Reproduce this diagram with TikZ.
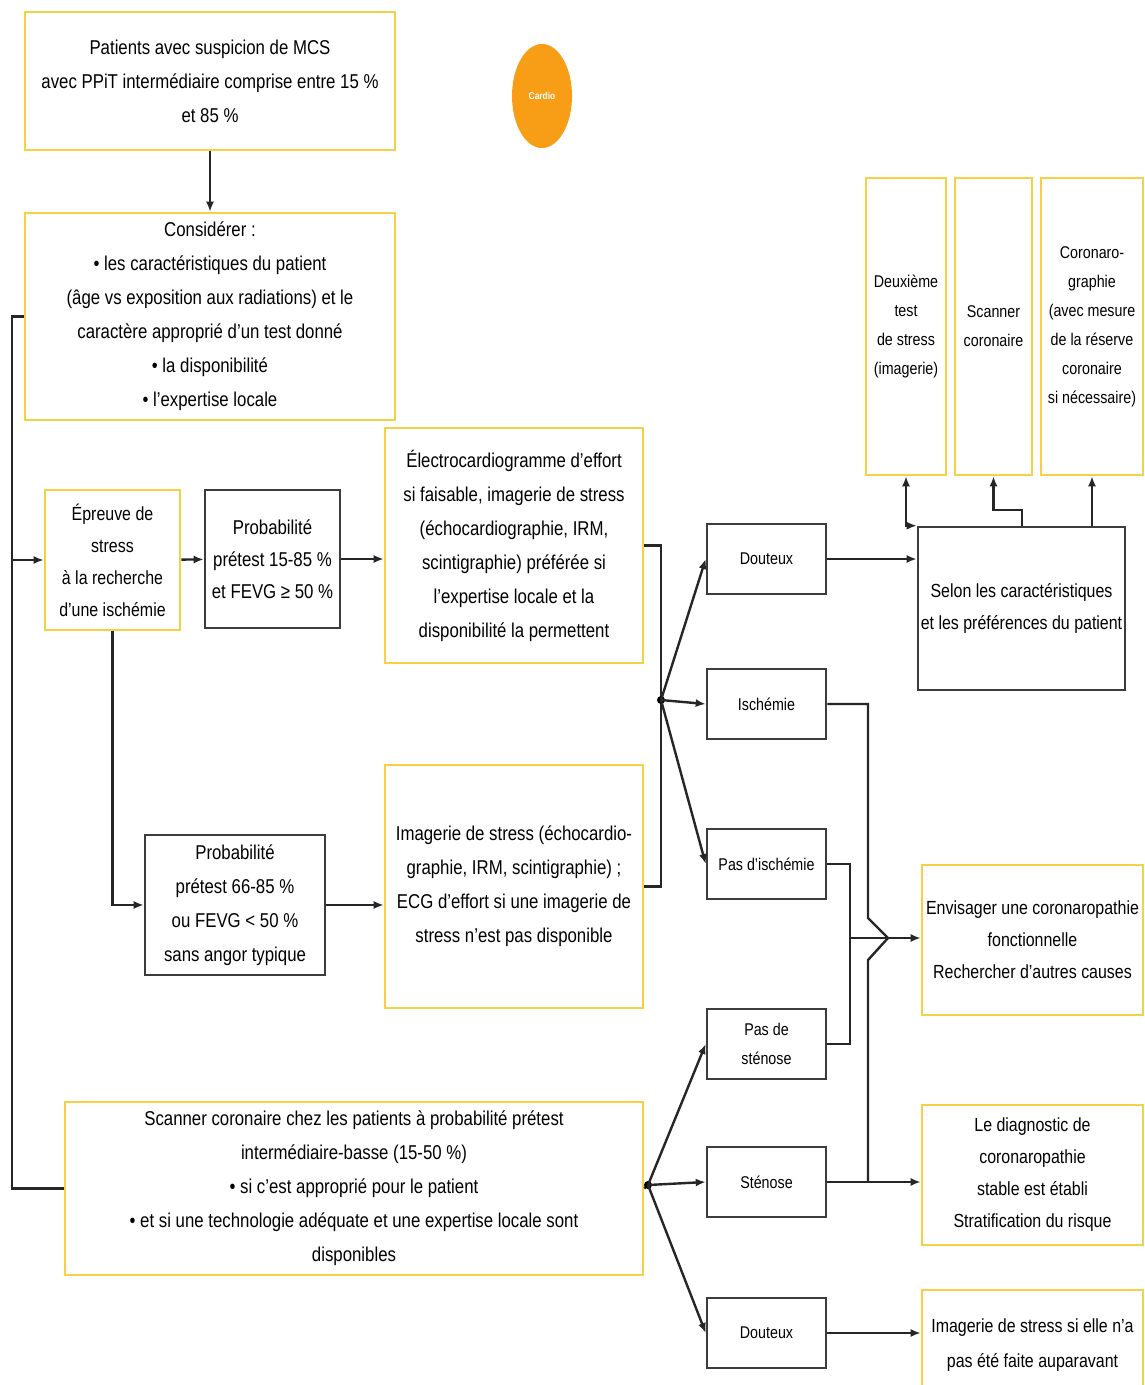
\documentclass[tikz,border=0pt]{standalone}
\usepackage{fontspec}
\setmainfont{Liberation Sans}[FakeStretch=0.84]
\usepackage{tikz}
\usetikzlibrary{shapes.geometric,arrows.meta,calc}
\definecolor{boxyellow}{RGB}{246,208,70}
\definecolor{boxgray}{RGB}{60,60,60}
\definecolor{cardioorange}{RGB}{247,158,22}

\begin{document}
\begin{tikzpicture}[x=1pt,y=-1pt,
    >={Latex[length=10pt,width=8pt]},
    ybox/.style={draw=boxyellow, line width=2.6pt, fill=white, align=center,
        inner sep=2pt, font=\fontsize{20}{34}\selectfont},
    gbox/.style={draw=boxgray, line width=2.6pt, fill=white, align=center,
        inner sep=2pt, font=\fontsize{20}{32}\selectfont},
    sbox/.style={gbox, minimum width=119, minimum height=70,
        font=\fontsize{17}{29}\selectfont},
    tallbox/.style={ybox, minimum height=297, font=\fontsize{17}{29}\selectfont},
    link/.style={draw=black!85, line width=2.4pt},
    arr/.style={link, ->}]
    \useasboundingbox (0,0) rectangle (1145,1385);
    \clip (0,0) rectangle (1145,1385);
    \fill[white] (0,0) rectangle (1145,1385);

    % Start
    \node[ybox, minimum width=370, minimum height=138] (patients) at (210,81)
        {Patients avec suspicion de MCS\\ avec PPiT intermédiaire comprise entre 15 \%\\ et 85 \%};
    \node[ellipse, fill=cardioorange, minimum width=60, minimum height=104, inner sep=0,
        text=white, font=\bfseries\fontsize{10}{10}\selectfont] (cardio) at (542,96) {Cardio};
    \node[ybox, minimum width=370, minimum height=207] (consider) at (210,316.5)
        {Considérer :\\ • les caractéristiques du patient\\ (âge vs exposition aux radiations) et le\\
         caractère approprié d'un test donné\\ • la disponibilité\\ • l'expertise locale};

    % Stress test branch
    \node[ybox, minimum width=135, minimum height=140, font=\fontsize{19}{32}\selectfont] (epreuve) at (112.5,560)
        {Épreuve de\\ stress\\ à la recherche\\ d'une ischémie};
    \node[gbox, minimum width=135, minimum height=138] (prob1) at (272.5,559)
        {Probabilité\\ prétest 15-85 \%\\ et FEVG ≥ 50 \%};
    \node[ybox, minimum width=258, minimum height=235] (ecg) at (514,545.5)
        {Électrocardiogramme d'effort\\ si faisable, imagerie de stress\\ (échocardiographie, IRM,\\
         scintigraphie) préférée si\\ l'expertise locale et la\\ disponibilité la permettent};
    \node[gbox, minimum width=180, minimum height=140, font=\fontsize{20}{34}\selectfont] (prob2) at (235,905)
        {Probabilité\\ prétest 66-85 \%\\ ou FEVG < 50 \%\\ sans angor typique};
    \node[ybox, minimum width=258, minimum height=243] (imag) at (514,886.5)
        {Imagerie de stress (échocardio-\\ graphie, IRM, scintigraphie) ;\\
         ECG d'effort si une imagerie de\\ stress n'est pas disponible};

    % CT branch
    \node[ybox, minimum width=578, minimum height=173] (scan) at (354,1188.5)
        {Scanner coronaire chez les patients à probabilité prétest\\ intermédiaire-basse (15-50 \%)\\
         • si c'est approprié pour le patient\\
         • et si une technologie adéquate et une expertise locale sont\\ disponibles};

    % Results
    \node[sbox] (dout1) at (766.5,559) {Douteux};
    \node[sbox] (isch) at (766.5,704) {Ischémie};
    \node[sbox] (pasisch) at (766.5,864) {Pas d'ischémie};
    \node[sbox] (passten) at (766.5,1044) {Pas de\\ sténose};
    \node[sbox] (sten) at (766.5,1182) {Sténose};
    \node[sbox] (dout2) at (766.5,1333) {Douteux};

    % Outcomes
    \node[gbox, minimum width=207, minimum height=163, font=\fontsize{19}{32}\selectfont] (selon) at (1021.5,608.5)
        {Selon les caractéristiques\\ et les préférences du patient};
    \node[tallbox, minimum width=80] (deux) at (906,326.5)
        {Deuxième\\ test\\ de stress\\ (imagerie)};
    \node[tallbox, minimum width=77] (scancor) at (993.5,326.5)
        {Scanner\\ coronaire};
    \node[tallbox, minimum width=102] (corono) at (1092,326.5)
        {Coronaro-\\ graphie\\ (avec mesure\\ de la réserve\\ coronaire\\ si nécessaire)};
    \node[ybox, minimum width=221, minimum height=150, font=\fontsize{19}{32}\selectfont] (envis) at (1032.5,940)
        {Envisager une coronaropathie\\ fonctionnelle\\ Rechercher d'autres causes};
    \node[ybox, minimum width=221, minimum height=140, font=\fontsize{19}{32}\selectfont] (diag) at (1032.5,1175)
        {Le diagnostic de\\ coronaropathie\\ stable est établi\\ Stratification du risque};
    \node[ybox, minimum width=221, minimum height=110, font=\fontsize{19}{35}\selectfont] (imsi) at (1032.5,1345)
        {Imagerie de stress si elle n'a\\ pas été faite auparavant};

    % Helper points
    \coordinate (busB) at (12,1188.5);
    \coordinate (brk) at (661,700);
    \coordinate (fan2) at (648,1185);
    \coordinate (jog) at (1022,510);
    \coordinate (hopA) at (868,918);
    \coordinate (hopB) at (888,938);
    \coordinate (hopC) at (868,960);
    \coordinate (mrg) at (850,938);

    % Connectors
    \draw[arr] (patients) -- (consider);
    \draw[link] (consider.west) -| (busB) -- (scan.west);
    \draw[arr] (busB |- epreuve.west) -- (epreuve.west);
    \draw[arr] (epreuve) -- (prob1);
    \draw[arr] (prob1.east) -- (prob1.east -| ecg.west);
    \draw[arr] (epreuve.south) |- (prob2.west);
    \draw[arr] (prob2.east) -- (prob2.east -| imag.west);
    \draw[link] (ecg.east) -| (brk) |- (imag.east);
    \fill (brk) circle (4);
    \foreach \res in {dout1,isch,pasisch}
        \draw[arr] (brk) -- (\res.west);
    \draw[link] (scan.east) -- (fan2);
    \fill (fan2) circle (4);
    \foreach \res in {passten,sten,dout2}
        \draw[arr] (fan2) -- (\res.west);

    \draw[arr] (dout1.east) -- (dout1.east -| selon.west);
    \draw[arr, <->] (deux.south) |- (selon.north west);
    \draw[arr] (jog |- selon.north) -- (jog) -| (scancor.south);
    \draw[arr] (corono.south |- selon.north) -- (corono.south);

    \draw[link] (isch.east) -| (hopA) -- (hopB) -- (hopC) -- (hopC |- sten.east);
    \draw[link] (pasisch.east) -| (mrg) |- (passten.east);
    \draw[arr] (mrg) -- (mrg -| envis.west);
    \draw[arr] (sten.east) -- (sten.east -| diag.west);
    \draw[arr] (dout2.east) -- (dout2.east -| imsi.west);
\end{tikzpicture}
\end{document}
